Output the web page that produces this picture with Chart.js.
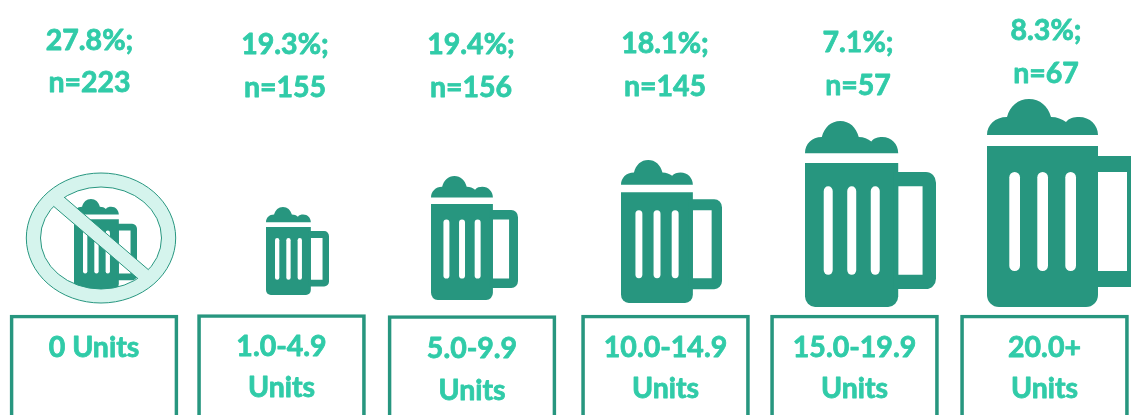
<!DOCTYPE html>
<html>
<head>
<meta charset="utf-8">
<script src="https://cdn.jsdelivr.net/npm/chart.js@4/dist/chart.umd.js"></script>
<style>
html, body { margin: 0; padding: 0; background: #fff; overflow: hidden; }
canvas { display: block; }
</style>
</head>
<body>
<canvas id="myChart" width="1131" height="415"></canvas>
<script>
const categories = [["0 Units"], ["1.0-4.9", "Units"], ["5.0-9.9", "Units"], ["10.0-14.9", "Units"], ["15.0-19.9", "Units"], ["20.0+", "Units"]];
const shares = ["27.8", "19.3", "19.4", "18.1", "7.1", "8.3"];
const counts = [223, 155, 156, 145, 57, 67];

// layout (axes run in page pixels)
const boxX = [94, 281.5, 472, 665.5, 854.5, 1044.5];
const boxTop = [315, 314.5, 315.5, 315, 315, 315];
const mugX = [105.5, 297.5, 474.5, 671.5, 870.5, 1065];
const mugY = [244, 251, 238, 231.5, 214, 203];
const mugW = [63, 63, 87, 101, 131, 156];
const mugH = [90, 88, 124, 143, 186, 208];
const shareX = [89.5, 285, 471, 665, 858, 1046];
const shareY = [50, 54, 54, 53, 52, 40];
const countY = [91.5, 96.5, 97, 96, 95, 83];
const unitY = [356.5, 356, 357.5, 356.5, 356.5, 356.5];
const unitY2 = [null, 397, 400, 398, 398, 398];

const mugColor = "#27967F";
const textColor = "#30CBA8";
const ringColor = "#D5F4ED";

// mug icon, drawn in a 156x208 box and stretched to w x h
function mugIcon(w, h) {
    const c = document.createElement("canvas");
    c.width = w;
    c.height = h;
    const g = c.getContext("2d");
    g.scale(w / 156, h / 208);
    g.fillStyle = mugColor;

    // foam
    g.beginPath();
    g.moveTo(0, 36);
    g.bezierCurveTo(0, 26, 8, 18, 20, 18);
    g.bezierCurveTo(23, 7, 31, 0, 42, 0);
    g.bezierCurveTo(53, 0, 61, 7, 64, 18);
    g.bezierCurveTo(70, 18, 75, 20, 79, 23);
    g.bezierCurveTo(82, 19, 87, 18, 92, 18);
    g.bezierCurveTo(103, 18, 111, 26, 111, 36);
    g.closePath();
    g.fill();

    // body and handle, holes cut with evenodd
    g.beginPath();
    g.roundRect(0, 47, 111, 161, [0, 0, 12, 12]);
    g.fill();
    g.beginPath();
    g.roundRect(105, 57, 51, 131, [0, 12, 12, 0]);
    g.rect(111, 73, 29, 99);
    g.fill("evenodd");

    g.globalCompositeOperation = "destination-out";
    [22.3, 50.3, 78.3].forEach(function (sx) {
        g.beginPath();
        g.roundRect(sx, 73, 10.7, 99, 5.3);
        g.fill();
    });
    return c;
}

// the "no" sign over the first mug
function noSign() {
    const c = document.createElement("canvas");
    c.width = 152;
    c.height = 132;
    const g = c.getContext("2d");
    const cx = 76, cy = 66;
    const dx = cx - 101.3, dy = cy - 238.3;
    g.fillStyle = ringColor;
    g.strokeStyle = mugColor;
    g.lineWidth = 1;

    g.beginPath();
    g.ellipse(cx, cy, 74.7, 65, 0, 0, Math.PI * 2);
    g.moveTo(cx + 60.5, cy);
    g.ellipse(cx, cy, 60.5, 51, 0, 0, Math.PI * 2);
    g.fill("evenodd");
    g.stroke();

    g.beginPath();
    g.moveTo(51 + dx, 204 + dy);
    g.lineTo(61.3 + dx, 194.7 + dy);
    g.lineTo(151.7 + dx, 272.6 + dy);
    g.lineTo(141.3 + dx, 281.6 + dy);
    g.closePath();
    g.fill();

    g.beginPath();
    g.moveTo(54 + dx, 206.7 + dy);
    g.lineTo(138.3 + dx, 279 + dy);
    g.moveTo(64.3 + dx, 197.3 + dy);
    g.lineTo(148.7 + dx, 270 + dy);
    g.stroke();
    return c;
}

const labelPlugin = {
    id: "labelPlugin",
    afterDatasetsDraw: function (chart) {
        const g = chart.ctx;
        const x = chart.scales.x, y = chart.scales.y;
        function put(text, px, py) {
            const tx = x.getPixelForValue(px), ty = y.getPixelForValue(py);
            g.strokeText(text, tx, ty);
            g.fillText(text, tx, ty);
        }
        g.save();
        g.font = "bold 28.5px Lato";
        g.fillStyle = textColor;
        g.strokeStyle = textColor;
        g.lineWidth = 0.8;
        g.lineJoin = "round";
        g.textAlign = "center";
        g.textBaseline = "alphabetic";
        categories.forEach(function (lines, i) {
            put(shares[i] + "%;", shareX[i], shareY[i]);
            put("n=" + counts[i], shareX[i], countY[i]);
            put(lines[0], boxX[i], unitY[i]);
            if (lines[1]) {
                put(lines[1], boxX[i], unitY2[i]);
            }
        });
        g.restore();
    }
};

const data = {
    datasets: [
        {
            type: "bar",
            data: boxX.map(function (v, i) { return { x: v, y: [boxTop[i], 430] }; }),
            backgroundColor: "transparent",
            borderColor: mugColor,
            borderWidth: 3,
            borderSkipped: false,
            barThickness: 168,
            grouped: false,
            order: 3
        },
        {
            type: "scatter",
            data: mugX.map(function (v, i) { return { x: v, y: mugY[i] }; }),
            pointStyle: mugW.map(function (w, i) { return mugIcon(w, mugH[i]); }),
            clip: false,
            order: 2
        },
        {
            type: "scatter",
            data: [{ x: 101, y: 238 }],
            pointStyle: noSign(),
            order: 1
        }
    ]
};

const config = {
    data: data,
    plugins: [labelPlugin],
    options: {
        responsive: false,
        animation: false,
        events: [],
        layout: { padding: 0, autoPadding: false },
        plugins: {
            legend: { display: false },
            tooltip: { enabled: false }
        },
        scales: {
            x: { type: "linear", display: false, offset: false, min: 0, max: 1131 },
            y: { type: "linear", display: false, reverse: true, min: 0, max: 415 }
        }
    }
};

var ctx = document.getElementById("myChart").getContext("2d");
var myChart = new Chart(ctx, config);
</script>
</body>
</html>
